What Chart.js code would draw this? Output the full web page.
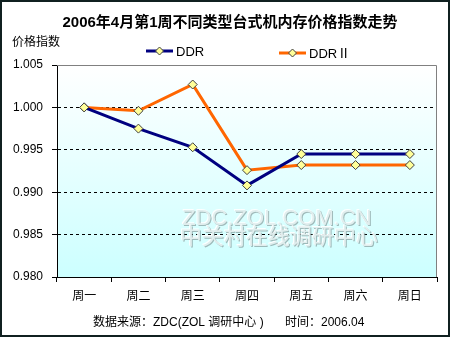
<!DOCTYPE html>
<html>
<head>
<meta charset="utf-8">
<script src="https://cdn.jsdelivr.net/npm/chart.js@4"></script>
<style>
	html, body { margin: 0; padding: 0; background: #fff; }
	#wrap { width: 450px; height: 337px; position: relative; }
</style>
</head>
<body>
<div id="wrap"><canvas id="myChart"></canvas></div>
<script>
// данные
const days = ["周一", "周二", "周三", "周四", "周五", "周六", "周日"];
const ddr = [1.0, 0.9975, 0.9953, 0.9908, 0.9945, 0.9945, 0.9945];
const ddr2 = [1.0, 0.9996, 1.0027, 0.9926, 0.9932, 0.9932, 0.9932];
const seriesNames = ["DDR", "DDRⅡ"];
const yTicks = [0.98, 0.985, 0.99, 0.995, 1.0, 1.005];

const FONT = '"Liberation Sans", "Noto Sans CJK SC", sans-serif';
const colors = ["#000080", "#ff6600"];

// фон, подписи и водяной знак
const decorPlugin = {
	id: "decor",
	beforeDraw(chart) {
		const { ctx, chartArea: a } = chart;
		ctx.save();
		ctx.fillStyle = "#fff";
		ctx.fillRect(0, 0, chart.width, chart.height);
		const g = ctx.createLinearGradient(0, a.top, 0, a.bottom);
		g.addColorStop(0, "#ffffff");
		g.addColorStop(1, "#ccffff");
		ctx.fillStyle = g;
		ctx.fillRect(a.left, a.top, a.right - a.left, a.bottom - a.top);
		ctx.restore();
	},
	beforeDatasetsDraw(chart) {
		const { ctx } = chart;
		ctx.save();
		ctx.textAlign = "center";
		ctx.textBaseline = "middle";
		const marks = [
			["ZDC.ZOL.COM.CN", 277, 219],
			["中关村在线调研中心", 279, 238],
		];
		ctx.font = "22px " + FONT;
		marks.forEach(([t, x, y]) => {
			ctx.fillStyle = "rgba(255,255,255,0.9)";
			ctx.fillText(t, x - 1, y - 1);
			ctx.fillStyle = "rgba(120,140,140,0.6)";
			ctx.fillText(t, x + 1, y + 1);
			ctx.fillStyle = "#e0eeee";
			ctx.fillText(t, x, y);
		});
		ctx.restore();
	},
	afterDraw(chart) {
		const { ctx, chartArea: a } = chart;
		ctx.save();
		// верхняя и правая рамка
		ctx.strokeStyle = "#808080";
		ctx.lineWidth = 1;
		ctx.beginPath();
		ctx.moveTo(a.left, a.top + 0.5);
		ctx.lineTo(a.right - 0.5, a.top + 0.5);
		ctx.lineTo(a.right - 0.5, a.bottom);
		ctx.stroke();

		ctx.fillStyle = "#000";
		ctx.textBaseline = "middle";
		ctx.textAlign = "center";
		ctx.font = "bold 15px " + FONT;
		ctx.fillText("2006年4月第1周不同类型台式机内存价格指数走势", 230, 23);

		ctx.textAlign = "left";
		ctx.font = "12px " + FONT;
		ctx.fillText("价格指数", 12, 43);

		// легенда
		const legend = [
			[146, 51],
			[279, 53],
		];
		legend.forEach(([x, y], i) => {
			ctx.strokeStyle = colors[i];
			ctx.lineWidth = 3;
			ctx.beginPath();
			ctx.moveTo(x, y);
			ctx.lineTo(x + 27, y);
			ctx.stroke();
			const cx = x + 13.5;
			ctx.beginPath();
			ctx.moveTo(cx, y - 4);
			ctx.lineTo(cx + 4, y);
			ctx.lineTo(cx, y + 4);
			ctx.lineTo(cx - 4, y);
			ctx.closePath();
			ctx.fillStyle = "#ffff99";
			ctx.fill();
			ctx.strokeStyle = "#404040";
			ctx.lineWidth = 1;
			ctx.stroke();
			ctx.fillStyle = "#000";
			ctx.font = "13px " + FONT;
			ctx.fillText(seriesNames[i], x + 30, y + 1);
		});

		// источник
		ctx.font = "12px " + FONT;
		ctx.fillText("数据来源：ZDC(ZOL 调研中心 )", 93, 323);
		ctx.fillText("时间：2006.04", 285, 323);

		// внешняя рамка
		ctx.strokeStyle = "#102020";
		ctx.lineWidth = 2;
		ctx.strokeRect(1, 1, chart.width - 2, chart.height - 2);
		ctx.restore();
	},
};

const ctx = document.getElementById("myChart");
const chart = new Chart(ctx, {
	type: "line",
	data: {
		labels: days,
		datasets: [ddr, ddr2].map((vals, i) => ({
			label: seriesNames[i],
			data: vals,
			borderColor: colors[i],
			borderWidth: 3,
			tension: 0,
			pointStyle: "rectRot",
			pointRadius: 4.5,
			pointBackgroundColor: "#ffff99",
			pointBorderColor: "#404040",
			pointBorderWidth: 1,
		})),
	},
	options: {
		responsive: true,
		maintainAspectRatio: false,
		animation: false,
		events: [],
		layout: {
			padding: { top: 65, right: 13, left: 0, bottom: 0 },
		},
		plugins: {
			legend: { display: false },
			tooltip: { enabled: false },
		},
		scales: {
			x: {
				offset: true,
				grid: {
					offset: true,
					drawOnChartArea: false,
					tickLength: 5,
					tickColor: "#000",
				},
				border: { color: "#000", width: 1 },
				ticks: {
					color: "#000",
					padding: 7,
					font: { family: FONT, size: 12 },
				},
				afterFit(scale) {
					scale.height = 60;
				},
			},
			y: {
				min: yTicks[0],
				max: yTicks[yTicks.length - 1],
				afterBuildTicks(scale) {
					scale.ticks = yTicks.map((v) => ({ value: v }));
				},
				grid: {
					color: (c) =>
						c.tick && (c.tick.value > 1.004 || c.tick.value < 0.981)
							? "rgba(0,0,0,0)"
							: "#000",
					tickColor: "#000",
					tickLength: 5,
				},
				border: { color: "#000", width: 1, dash: [3, 3] },
				ticks: {
					color: "#000",
					padding: 9,
					font: { family: FONT, size: 12 },
					callback: (v) => Number(v).toFixed(3),
				},
				afterFit(scale) {
					scale.width = 57;
				},
			},
		},
	},
	plugins: [decorPlugin],
});
</script>
</body>
</html>
